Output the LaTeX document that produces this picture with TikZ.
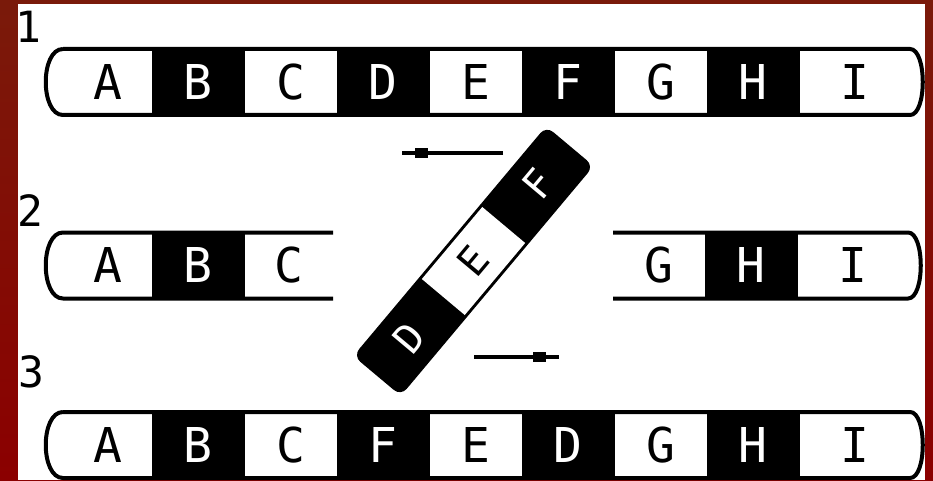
\documentclass[tikz,border=0pt]{standalone}
\usepackage{fontspec}
\newfontfamily\lcdfont{DejaVu Sans Mono}
\usetikzlibrary{positioning}
\definecolor{slidered}{RGB}{139,0,0}
\definecolor{slidebrown}{RGB}{122,26,10}

\begin{document}
\begin{tikzpicture}[x=1pt, y=1pt,
  wc/.style={minimum width=92.5pt, minimum height=66pt, inner sep=0pt, outer sep=0pt, font=\lcdfont\fontsize{48}{48}\selectfont},
  bc/.style={wc, fill=black, text=white},
  strip/.style={line width=4pt, black},
  num/.style={inner sep=0pt, font=\lcdfont\fontsize{43}{43}\selectfont},
  mv/.style={line width=4pt, black},
  knob/.style={fill=black, minimum width=13pt, minimum height=10pt, inner sep=0pt},
  piece/.style={fill=black, rounded corners=9pt, minimum width=300pt, minimum height=62pt, inner sep=0pt},
  pw/.style={fill=white, minimum width=94pt, minimum height=56pt, inner sep=0pt, font=\lcdfont\fontsize{40}{40}\selectfont},
  pb/.style={text=white, inner sep=0pt, font=\lcdfont\fontsize{40}{40}\selectfont}]
  \fill[top color=slidebrown, bottom color=slidered] (0,0) rectangle (933,480);
  \fill[white] (18,0) rectangle (925,476);

  \node[num] (n1) at (28,453) {1};
  \node[num] (n2) at (30,269) {2};
  \node[num] (n3) at (31,108) {3};

  \node[wc, minimum width=89pt] (a1) at (107.5,398) {A};
  \node[bc, right=0pt of a1] (b1) {B};
  \node[wc, right=0pt of b1] (c1) {C};
  \node[bc, right=0pt of c1] (d1) {D};
  \node[wc, right=0pt of d1] (e1) {E};
  \node[bc, right=0pt of e1] (f1) {F};
  \node[wc, right=0pt of f1] (g1) {G};
  \node[bc, right=0pt of g1] (h1) {H};
  \node[wc, minimum width=110.5pt, right=0pt of h1] (i1) {I};
  \draw[strip] (a1.north west) -- (i1.north east) .. controls +(17,0) and +(17,0) .. (i1.south east) -- (a1.south west) .. controls +(-23,0) and +(-23,0) .. (a1.north west);

  \node[wc, minimum width=89pt] (a2) at (107.5,214.5) {A};
  \node[bc, right=0pt of a2] (b2) {B};
  \node[wc, minimum width=88.5pt, right=0pt of b2] (c2) {C};
  \node[wc, minimum width=92pt] (g2) at (659,214.5) {G};
  \node[bc, right=0pt of g2] (h2) {H};
  \node[wc, minimum width=110.5pt, right=0pt of h2] (i2) {I};
  \draw[strip] (c2.north east) -- (a2.north west) .. controls +(-23,0) and +(-23,0) .. (a2.south west) -- (c2.south east);
  \draw[strip] (g2.north west) -- (i2.north east) .. controls +(17,0) and +(17,0) .. (i2.south east) -- (g2.south west);

  \node[wc, minimum width=89pt] (a3) at (107.5,35) {A};
  \node[bc, right=0pt of a3] (b3) {B};
  \node[wc, right=0pt of b3] (c3) {C};
  \node[bc, right=0pt of c3] (f3) {F};
  \node[wc, right=0pt of f3] (e3) {E};
  \node[bc, right=0pt of e3] (d3) {D};
  \node[wc, right=0pt of d3] (g3) {G};
  \node[bc, right=0pt of g3] (h3) {H};
  \node[wc, minimum width=110.5pt, right=0pt of h3] (i3) {I};
  \draw[strip] (a3.north west) -- (i3.north east) .. controls +(17,0) and +(17,0) .. (i3.south east) -- (a3.south west) .. controls +(-23,0) and +(-23,0) .. (a3.north west);

  \coordinate (up1) at (503,327);
  \coordinate (up2) at (402,327);
  \draw[mv] (up1) -- node[knob, pos=0.807] (kn1) {} (up2);
  \coordinate (lo1) at (474,123);
  \coordinate (lo2) at (559,123);
  \draw[mv] (lo1) -- node[knob, pos=0.77] (kn2) {} (lo2);

  \begin{scope}[shift={(473.5,219)}, rotate=50, transform shape]
    \node[piece] (pc) at (0,0) {};
    \node[pw] (pe) at (0,0) {E};
    \node[pb] (pd) at (-101,0) {D};
    \node[pb] (pf) at (101,0) {F};
  \end{scope}
\end{tikzpicture}
\end{document}
